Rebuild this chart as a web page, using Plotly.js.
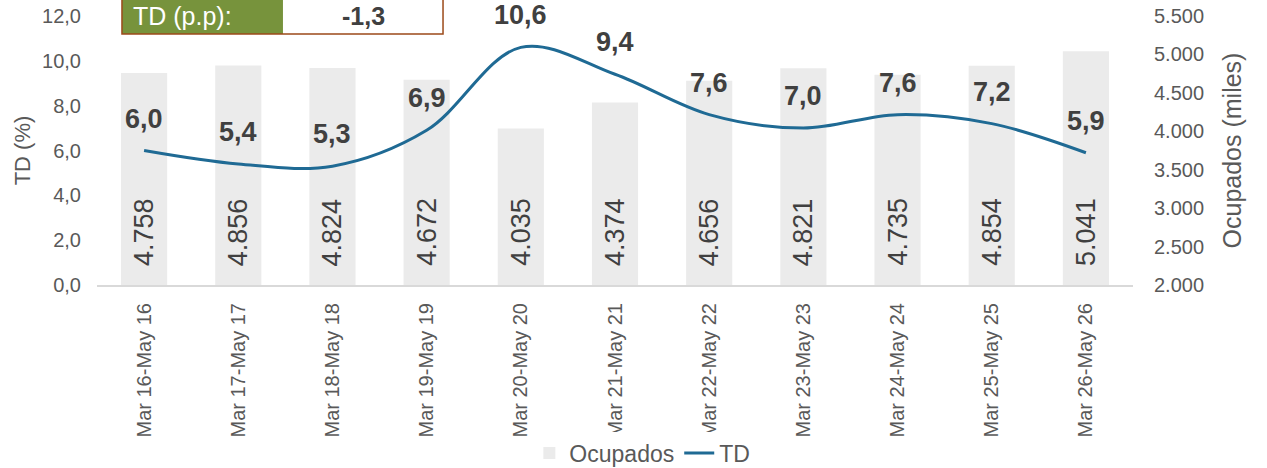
<!DOCTYPE html>
<html>
<head>
<meta charset="utf-8">
<script src="https://cdn.plot.ly/plotly-3.0.1.min.js"></script>
<style>html,body{margin:0;padding:0;background:#fff;}#chart{width:1267px;height:468px;}</style>
</head>
<body>
<div id="chart"></div>
<script>
const categories = ["Mar 16-May 16","Mar 17-May 17","Mar 18-May 18","Mar 19-May 19","Mar 20-May 20","Mar 21-May 21","Mar 22-May 22","Mar 23-May 23","Mar 24-May 24","Mar 25-May 25","Mar 26-May 26"];
const ocupados = [4758, 4856, 4824, 4672, 4035, 4374, 4656, 4821, 4735, 4854, 5041];
const td = [6.0, 5.4, 5.3, 6.9, 10.6, 9.4, 7.6, 7.0, 7.6, 7.2, 5.9];
const tdRange = [0, 12];
const ocuRange = [2000, 5500];
const boxLabel = "TD (p.p):";
const boxValue = "-1,3";

const fmtThousands = v => String(v).replace(/\B(?=(\d{3})+(?!\d))/g, '.');
const fmtDec = v => v.toFixed(1).replace('.', ',');

const font = "Liberation Sans, Arial, sans-serif";
const grey = "#595959";
const dark = "#404040";

const traces = [
  {
    type: 'bar', name: 'Ocupados', x: categories, y: ocupados, yaxis: 'y',
    marker: {color: '#ebebeb'}, width: 0.49, hoverinfo: 'skip'
  },
  {
    type: 'scatter', mode: 'lines', name: 'TD', x: categories, y: td, yaxis: 'y2',
    line: {color: '#1f6a94', width: 3, shape: 'spline', smoothing: 1}
  }
];

const annotations = [];
categories.forEach((c, i) => {
  annotations.push({
    x: c, y: td[i], xref: 'x', yref: 'y2', text: '<b>' + fmtDec(td[i]) + '</b>',
    showarrow: false, yanchor: 'bottom', yshift: 15,
    font: {family: font, size: 27, color: dark}
  });
  annotations.push({
    x: c, y: ocuRange[0], xref: 'x', yref: 'y', text: fmtThousands(ocupados[i]),
    showarrow: false, textangle: -90, yanchor: 'bottom', yshift: 17,
    font: {family: font, size: 27, color: dark}
  });
});
annotations.push({
  x: 0.033, y: 1.0, xref: 'paper', yref: 'paper', text: boxLabel, showarrow: false,
  xanchor: 'left', yanchor: 'middle', font: {family: font, size: 25, color: '#ffffff'}
});
annotations.push({
  x: 0.257, y: 1.0, xref: 'paper', yref: 'paper', text: '<b>' + boxValue + '</b>', showarrow: false,
  xanchor: 'center', yanchor: 'middle', font: {family: font, size: 25, color: dark}
});

const layout = {
  width: 1267, height: 468,
  margin: {l: 97, r: 134, t: 16, b: 183, autoexpand: false},
  paper_bgcolor: '#ffffff', plot_bgcolor: '#ffffff',
  separators: ',.',
  font: {family: font, color: grey},
  showlegend: true,
  legend: {orientation: 'h', x: 0.507, xref: 'container', xanchor: 'center',
           y: 0.032, yref: 'container', yanchor: 'middle',
           font: {family: font, size: 23, color: grey}, traceorder: 'normal'},
  xaxis: {
    type: 'category', tickangle: -90, tickfont: {family: font, size: 20, color: grey},
    showline: true, linecolor: '#d9d9d9', linewidth: 2, ticks: '', showgrid: false, zeroline: false,
    automargin: false, ticklabelstandoff: 8
  },
  yaxis: {
    range: ocuRange, dtick: 500, tickformat: ',d', side: 'right',
    showgrid: false, zeroline: false, showline: false, automargin: false, ticklabelstandoff: 20,
    tickfont: {family: font, size: 20, color: grey},
    title: {text: 'Ocupados (miles)', font: {family: font, size: 25, color: grey}, standoff: 20}
  },
  yaxis2: {
    range: tdRange, dtick: 2, tickformat: '.1f', overlaying: 'y', side: 'left',
    showgrid: false, zeroline: false, showline: false, automargin: false, ticklabelstandoff: 15,
    tickfont: {family: font, size: 20, color: grey},
    title: {text: 'TD (%)', font: {family: font, size: 22, color: grey}, standoff: 5}
  },
  shapes: [
    {type: 'rect', xref: 'paper', yref: 'paper', x0: 0.0241, x1: 0.1795, y0: 0.933, y1: 1.07,
     fillcolor: '#77933c', line: {width: 0}, layer: 'above'},
    {type: 'rect', xref: 'paper', yref: 'paper', x0: 0.0241, x1: 0.334, y0: 0.933, y1: 1.07,
     fillcolor: 'rgba(0,0,0,0)', line: {color: '#9c4a1a', width: 1.5}, layer: 'above'}
  ],
  annotations: annotations
};

Plotly.newPlot('chart', traces, layout, {displayModeBar: false, staticPlot: true});
</script>
</body>
</html>
